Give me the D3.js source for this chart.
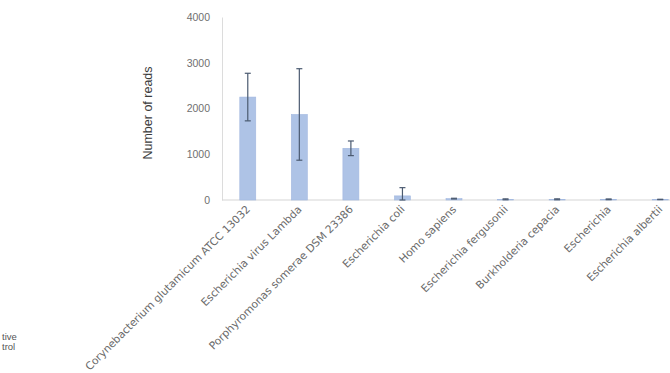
<!DOCTYPE html>
<html>
<head>
<meta charset="utf-8">
<script src="https://cdn.jsdelivr.net/npm/d3@7/dist/d3.min.js"></script>
<style>
  html, body { margin: 0; padding: 0; background: #ffffff; }
  svg { display: block; }
</style>
</head>
<body>
<script>
// Read counts per taxon (mean and error-bar half-width)
const categories = [
  "Corynebacterium glutamicum ATCC 13032",
  "Escherichia virus Lambda",
  "Porphyromonas somerae DSM 23386",
  "Escherichia coli",
  "Homo sapiens",
  "Escherichia fergusonii",
  "Burkholderia cepacia",
  "Escherichia",
  "Escherichia albertii"
];
const meanReads = [2250, 1870, 1130, 90, 30, 15, 15, 15, 12];
const errReads  = [520, 1000, 160, 180, 8, 10, 10, 8, 4];
const yTicks = [0, 1000, 2000, 3000, 4000];
// tail of the legend entry at the left margin
const legendLines = ["tive", "trol"];

const W = 670, H = 373;
const svg = d3.select("body").append("svg").attr("width", W).attr("height", H);

const x = d3.scaleBand().domain(categories).range([222, 686]).paddingInner(0.69).paddingOuter(0.345);
const y = d3.scaleLinear().domain([0, 4000]).range([200, 17]);

// y axis: light line, grey numbers
const yAxis = svg.append("g").attr("transform", "translate(222,0)")
  .call(d3.axisLeft(y).tickValues(yTicks).tickSize(0).tickPadding(12).tickFormat(d3.format("d")));
yAxis.select(".domain").attr("stroke", "#dcdcdc");
yAxis.selectAll("text").attr("fill", "#707070").style("font-family", "Liberation Sans, Arial, sans-serif").style("font-size", "10.5px");

// x axis baseline
svg.append("line").attr("x1", 222).attr("x2", W).attr("y1", y(0)).attr("y2", y(0))
  .attr("stroke", "#d6d6d6").attr("stroke-width", 1.2);

// bars
svg.append("g").selectAll("rect").data(categories).join("rect")
  .attr("x", d => x(d))
  .attr("width", x.bandwidth())
  .attr("y", (d, i) => y(meanReads[i]))
  .attr("height", (d, i) => y(0) - y(meanReads[i]))
  .attr("fill", "#aec3e6")
  .attr("stroke", "#a2b8df")
  .attr("stroke-width", 0.6);

// error bars
const eb = svg.append("g").attr("stroke", "#4b5a70").attr("stroke-width", 1.2);
categories.forEach((c, i) => {
  const cx = x(c) + x.bandwidth() / 2;
  const hi = y(meanReads[i] + errReads[i]);
  const lo = y(Math.max(0, meanReads[i] - errReads[i]));
  eb.append("line").attr("x1", cx).attr("x2", cx).attr("y1", hi).attr("y2", lo);
  eb.append("line").attr("x1", cx - 3).attr("x2", cx + 3).attr("y1", hi).attr("y2", hi);
  eb.append("line").attr("x1", cx - 3).attr("x2", cx + 3).attr("y1", lo).attr("y2", lo);
});

// rotated category labels
svg.append("g").selectAll("text").data(categories).join("text")
  .attr("transform", d => `translate(${x(d) + x.bandwidth() / 2 + 3},${y(0) + 10}) rotate(-45)`)
  .attr("text-anchor", "end")
  .attr("fill", "#6a6a6a")
  .style("font-family", "DejaVu Sans, sans-serif")
  .style("font-size", "10.7px")
  .text(d => d);

// y axis title
svg.append("text")
  .attr("transform", "translate(152,113) rotate(-90)")
  .attr("text-anchor", "middle")
  .attr("fill", "#3c3c3c")
  .style("font-family", "Liberation Sans, Arial, sans-serif")
  .style("font-size", "12.5px")
  .text("Number of reads");

// legend text
svg.append("g").selectAll("text").data(legendLines).join("text")
  .attr("x", 2)
  .attr("y", (d, i) => 340 + i * 10)
  .attr("fill", "#555")
  .style("font-family", "Liberation Sans, Arial, sans-serif")
  .style("font-size", "9.5px")
  .text(d => d);
</script>
</body>
</html>
